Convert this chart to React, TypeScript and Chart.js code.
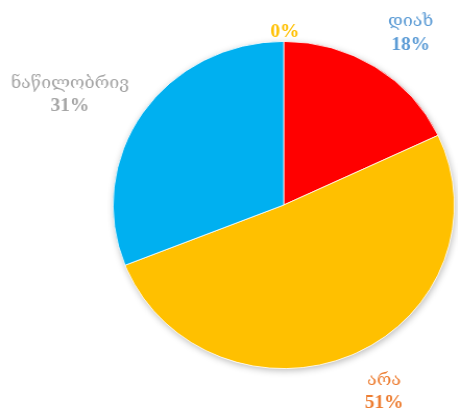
import React, { useEffect, useRef } from "react";
import { Chart, registerables } from "chart.js";

Chart.register(...registerables);

const categories = ["დიახ", "არა", "ნაწილობრივ", ""];
const values = [18, 51, 31, 0];
const sliceColors = ["#FF0000", "#FFC000", "#00B0F0", "#A5A5A5"];
const labelColors = ["#5B9BD5", "#ED7D31", "#A5A5A5", "#FFC000"];

const STRETCH = 1.043;
const INNER_W = 439;
const NAME_FONT = "17px 'DejaVu Serif', 'DejaVu Sans', serif";
const PCT_FONT = "bold 18.5px 'Liberation Serif', 'DejaVu Serif', serif";
const LINE_H = 23;
// small label nudges (px) in the style of Excel's "best fit" placement
const LABEL_NUDGE: [number, number][] = [
  [9, 7],
  [14, -7],
  [-2, 9],
  [1, 1],
];

const shadowPlugin = {
  id: "pieShadow",
  beforeDatasetsDraw(chart: any) {
    const meta = chart.getDatasetMeta(0);
    const arc = meta.data.find((a: any) => a);
    if (!arc) return;
    const { x, y, outerRadius } = arc.getProps(["x", "y", "outerRadius"], true);
    const ctx = chart.ctx;
    ctx.save();
    ctx.shadowColor = "rgba(0,0,0,0.28)";
    ctx.shadowBlur = 7;
    ctx.shadowOffsetX = 1;
    ctx.shadowOffsetY = 2;
    ctx.fillStyle = "#ffffff";
    ctx.beginPath();
    ctx.arc(x, y, outerRadius, 0, Math.PI * 2);
    ctx.fill();
    ctx.restore();
  },
};

const labelPlugin = {
  id: "outsideLabels",
  afterDatasetsDraw(chart: any) {
    const ctx = chart.ctx;
    const ds = chart.data.datasets[0];
    const data = ds.data as number[];
    const total = data.reduce((s, v) => s + v, 0);
    const meta = chart.getDatasetMeta(0);
    ctx.save();
    ctx.textAlign = "center";
    ctx.textBaseline = "middle";
    meta.data.forEach((arc: any, i: number) => {
      const { x, y, startAngle, endAngle, outerRadius } = arc.getProps(
        ["x", "y", "startAngle", "endAngle", "outerRadius"],
        true
      );
      const mid = (startAngle + endAngle) / 2;
      const dx = Math.cos(mid);
      const dy = Math.sin(mid);
      const pct = Math.round((data[i] / total) * 100) + "%";
      const lines: [string, string][] = chart.data.labels[i]
        ? [
            [chart.data.labels[i], NAME_FONT],
            [pct, PCT_FONT],
          ]
        : [[pct, PCT_FONT]];
      const w = Math.max(
        ...lines.map(([t, f]) => {
          ctx.font = f;
          return ctx.measureText(t).width;
        })
      );
      const halfW = w / 2;
      const halfH = (lines.length * LINE_H) / 2;
      const gap = data[i] === 0 ? -1 : 25;
      const ax = x + dx * (outerRadius + gap);
      const ay = y + dy * (outerRadius + gap);
      const [nx, ny] = LABEL_NUDGE[i] || [0, 0];
      const cx = ax + dx * halfW + nx;
      const cy = ay + dy * halfH + ny;
      ctx.fillStyle = labelColors[i];
      lines.forEach(([t, f], k) => {
        ctx.font = f;
        ctx.fillText(t, cx, cy - halfH + LINE_H / 2 + k * LINE_H);
      });
    });
    ctx.restore();
  },
};

export default function App() {
  const ref = useRef<HTMLCanvasElement>(null);
  useEffect(() => {
    if (!ref.current) return;
    const chart = new Chart(ref.current, {
      type: "pie",
      data: {
        labels: categories,
        datasets: [
          {
            data: values,
            backgroundColor: sliceColors,
            borderColor: "#ffffff",
            borderWidth: 0.8,
          },
        ],
      },
      options: {
        animation: false,
        responsive: false,
        maintainAspectRatio: false,
        layout: { padding: { left: 108, right: 3, top: 41, bottom: 41 } },
        plugins: {
          legend: { display: false },
          tooltip: { enabled: false },
        },
      },
      plugins: [shadowPlugin, labelPlugin],
    });
    return () => chart.destroy();
  }, []);
  return (
    <div style={{ position: "fixed", left: 0, top: 0, width: 458, height: 410, background: "#fff", overflow: "hidden" }}>
      <div style={{ width: INNER_W, height: 410, transform: `scaleX(${STRETCH})`, transformOrigin: "0 0" }}>
        <canvas ref={ref} width={INNER_W} height={410} />
      </div>
    </div>
  );
}
